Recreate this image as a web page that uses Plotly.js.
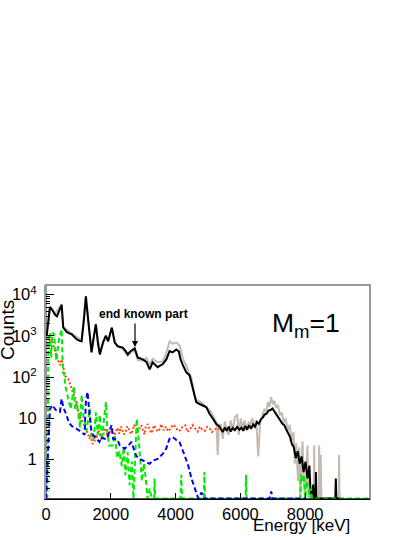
<!DOCTYPE html>
<html>
<head>
<meta charset="utf-8">
<script src="https://cdn.plot.ly/plotly-3.0.1.min.js"></script>
<style>html,body{margin:0;padding:0;background:#fff;}#chart{width:415px;height:537px;}</style>
</head>
<body>
<div id="chart"></div>
<script>
// ---------------- data ----------------
const blackE = [20,60,123,200,277,338,420,483,532,637,
  720,791,870,945,1040,1098,1170,1231,1300,1354,
  1406,1470,1538,1600,1662,1760,1846,1917,1980,2031,
  2123,2215,2300,2369,2450,2523,2600,2677,2738,2831,
  2910,2985,3098,3200,3292,3370,3446,3520,3600,3714,
  3815,3908,4022,4100,4150,4225,4329,4431,4483,4585,
  4637,4710,4791,4870,4945,5046,5148,5252,5354,5455,
  5520,5580,5640,5700,5763,5830,5900,5969,6030,6090,
  6150,6210,6270,6330,6390,6450,6510,6570,6630,6690,
  6750,6810,6870,6930,6990,7050,7110,7170,7230,7290,
  7350,7410,7470,7530,7590,7650,7710,7770,7830,7890,
  7950,8010,8070,8130,8160,8190,8250,8280,8320,8330,
  8345,8930,8945,8960,9100];
const blackY = [1000,2000,5000,4200,3300,3000,4500,5700,1600,1250,
  1150,1100,950,830,760,740,2500,9100,2500,1000,
  400,900,1900,700,355,700,1000,740,1200,1580,
  690,560,540,520,440,355,420,470,500,300,
  290,270,235,155,230,200,175,190,205,270,
  430,400,470,420,275,195,130,112,76,37,
  25,23,21,20,19,13,10,7.4,6.3,4.7,
  6.0,5.0,6.3,4.8,5.9,5.2,6.2,5.3,6.0,5.0,
  6.6,5.4,6.9,5.6,7.2,6.3,8.2,7.4,9.5,10.5,
  12.5,13,15.5,16,17.5,15,12.5,11,9.0,7.5,
  7.0,5.5,4.5,3.6,2.4,2.0,1.1,1.6,0.8,1.2,
  0.5,0.9,0.35,0.72,0.2,0.115,0.25,0.115,0.115,0.5,
  0.115,0.115,0.35,0.115,0.115];

const grayE = [20,123,277,483,532,791,1098,1231,1354,1406,
  1538,1662,1846,1917,2031,2123,2215,2369,2523,2600,
  2677,2738,2831,2985,3098,3200,3292,3446,3600,3714,
  3815,3908,4022,4123,4225,4329,4431,4483,4585,4637,
  4791,4945,5046,5148,5220,5260,5300,5340,5400,5455,
  5520,5580,5640,5700,5763,5830,5900,5950,6010,6070,
  6130,6190,6250,6310,6370,6430,6490,6550,6610,6670,
  6738,6790,6850,6900,6945,7000,7050,7100,7160,7220,
  7280,7340,7400,7460,7520,7580,7640,7680,7720,7780,
  7815,7850,7917,7960,8000,8070,8100,8260,8277,8295,
  8415,8430,8445,8465,8480,8500,9030,9046,9060,9200];
const grayY = [1100,5200,3400,5900,1700,1150,780,9300,1050,420,
  2000,370,1050,760,1600,700,560,480,330,380,
  430,450,260,250,290,200,280,230,240,380,
  740,650,690,590,280,190,112,100,37,28,
  25,19,16,12,9,8,1.3,7,7,3.2,
  8.5,5,4,9,5,11,12,4,10,6,
  9,5,8,7.4,10,6,9,1.2,8,12,
  17,14,25,19,33,22,27,18,21,12,
  14,8,10,5,7,3,4.7,0.8,2.5,0.3,
  2.0,0.115,2.8,0.3,0.115,2.2,0.115,0.115,2.2,0.115,
  0.115,2.2,0.115,0.115,1.3,0.115,0.115,1.3,0.115,0.115];

const redE = [60,123,200,277,338,430,483,532,590,690,
  790,870,945,1020,1100,1180,1240,1290,1340,1385,
  1440,1490,1530,1560,1610,1660,1710,1760,1810,1850,
  1900,1950,2000,2050,2100,2150,2200,2260,2310,2360,
  2410,2460,2510,2560,2620,2670,2720,2780,2830,2880,
  2940,3000,3040,3080,3140,3200,3260,3330,3390,3450,
  3500,3560,3630,3700,3770,3850,3920,4000,4070,4150,
  4220,4300,4370,4450,4520,4600,4680,4750,4820,4900,
  4970,5050,5120,5200,5280,5350];
const redY = [600,800,700,400,300,195,270,180,107,89,
  51,35,25,12,9,7,5,4.5,3.2,3.9,
  2.4,2.7,4.1,3.3,5.2,4.3,3.0,3.5,5.8,5.2,
  3.6,4,6.2,5.6,3.9,4.5,5.9,4.3,6.3,5.3,
  4.1,4.7,6.5,5.5,4.2,5,7,6,4.6,5.6,
  6.8,5,4.1,6.3,7.3,5.2,4.4,6.8,5.6,4.8,
  5.4,7.2,5.1,6.3,4.9,5.7,7.1,6.3,5.0,5.2,
  6.4,6.8,4.7,5.5,6.9,5.6,4.8,6.3,5.4,5.0,
  6.2,5.8,4.7,5.2,6.0,5.6];

const greenE = [0,40,55,70,123,160,200,250,320,400,
  483,500,520,560,600,650,700,760,830,860,
  900,945,1000,1050,1100,1150,1200,1250,1290,1350,
  1400,1470,1540,1600,1660,1720,1780,1850,1900,1950,
  2050,2120,2200,2260,2340,2400,2450,2520,2580,2650,
  2700,2760,2800,2850,2900,2960,3020,3080,3130,3200,
  3260,3330,3350,3370,3500,4150,4175,4200,4870,4890,
  4910,6160,6175,6190,7850,7870,7920,7960,8000,8040,
  8160,8180,8200,10000];
const greenY = [0.115,0.115,3,1000,1200,300,1200,1100,250,800,
  1450,350,130,120,60,40,25,17,40,60,
  17,25,12,6,37,12,8,5,8.3,17,
  4,3,14,4,12,3,8,25,4,2.2,
  2.2,4,1.1,1.6,0.7,2,0.42,1.5,0.24,0.9,
  0.115,3,9.8,4,1.2,0.3,0.8,0.35,0.115,0.2,
  0.115,0.115,0.35,0.115,0.115,0.115,0.43,0.115,0.115,0.5,
  0.115,0.115,0.43,0.115,0.115,0.43,0.3,0.43,0.115,0.3,
  0.115,0.2,0.115,0.115];

const blueE = [0,40,90,123,200,300,430,480,540,637,
  700,800,945,1100,1190,1230,1280,1330,1390,1450,
  1560,1650,1700,1800,1880,2020,2070,2200,2280,2430,
  2540,2640,2700,2780,2880,2990,3100,3200,3300,3450,
  3600,3710,3810,3910,4020,4120,4280,4390,4490,4600,
  4650,4700,4800,4850,6900,6950,7000,8000];
const blueY = [0.115,0.73,10,17,21,16,14.5,30,18,12,
  8,6.5,5.6,4.7,4,25,44,15,5.5,4,
  3.3,2.7,3.5,3.2,3.2,6.8,3.2,3.1,2.2,1.85,
  2.2,2.7,1.9,1.26,1.05,0.95,0.9,0.8,0.95,1.05,
  1.38,1.86,3.2,3.55,3.0,2.7,1.26,0.72,0.35,0.18,
  0.15,0.115,0.16,0.115,0.115,0.17,0.115,0.115];

const xTicks = [0,2000,4000,6000,8000];
const xTickText = ['0','2000','4000','6000','8000'];
const yTicks = [1,10,100,1000,10000];
const yTickText = ['1','10','10<sup>2</sup>','10<sup>3</sup>','10<sup>4</sup>'];

// ---------------- drawing ----------------
const FONT = 'Liberation Sans, Arial, Helvetica, sans-serif';
const minorY = [];
[0.1,1,10,100,1000].forEach(d => { for (let k = 2; k <= 9; k++) minorY.push(d*k); });

const traces = [
  {x: grayE, y: grayY, mode: 'lines', line: {color: 'rgb(196,186,176)', width: 2}, hoverinfo: 'skip'},
  {x: blackE, y: blackY, mode: 'lines', line: {color: '#000', width: 2}, hoverinfo: 'skip'},
  {x: redE, y: redY, mode: 'lines', line: {color: 'rgb(255,70,20)', width: 2, dash: '2px,2px'}, hoverinfo: 'skip'},
  {x: greenE, y: greenY, mode: 'lines', line: {color: 'rgb(0,235,0)', width: 2, dash: '5px,3px'}, hoverinfo: 'skip'},
  {x: blueE, y: blueY, mode: 'lines', line: {color: 'rgb(0,0,255)', width: 2, dash: '5px,3px'}, hoverinfo: 'skip'}
];

const layout = {
  width: 415, height: 537,
  margin: {l: 46, r: 45, t: 285, b: 38, pad: 0},
  paper_bgcolor: '#fff', plot_bgcolor: '#fff',
  showlegend: false,
  font: {family: FONT, color: '#000'},
  xaxis: {
    range: [0, 10000], tickvals: xTicks, ticktext: xTickText,
    ticks: 'inside', ticklen: 6, tickwidth: 1, tickcolor: '#000',
    showline: true, linecolor: '#000', linewidth: 1,
    showgrid: false, zeroline: false,
    tickfont: {family: FONT, size: 16.5, color: '#000'}
  },
  yaxis: {
    type: 'log', range: [-0.953, 4.235],
    tickvals: yTicks, ticktext: yTickText,
    ticks: 'inside', ticklen: 8, tickwidth: 1, tickcolor: '#000',
    minor: {tickvals: minorY, ticks: 'inside', ticklen: 4, tickwidth: 1, tickcolor: '#000', showgrid: false},
    showline: true, linecolor: '#999', linewidth: 2,
    showgrid: false, zeroline: false,
    ticklabelstandoff: 4,
    tickfont: {family: FONT, size: 16.5, color: '#000'}
  },
  shapes: [
    {type: 'rect', xref: 'paper', yref: 'paper', x0: 0, x1: 1, y0: 0, y1: 1,
     line: {color: '#999', width: 2}, layer: 'below'},
    {type: 'line', xref: 'paper', yref: 'paper', x0: 0, x1: 1, y0: 0, y1: 0,
     line: {color: '#000', width: 1}}
  ],
  annotations: [
    {text: 'Counts', xref: 'paper', yref: 'paper', x: -0.117, y: 0.79,
     xanchor: 'center', yanchor: 'middle', textangle: -90, showarrow: false, borderpad: 0,
     font: {family: FONT, size: 19, color: '#000'}},
    {text: 'Energy [keV]', xref: 'paper', yref: 'paper', x: 0.944, y: -0.126,
     xanchor: 'right', yanchor: 'middle', showarrow: false,
     font: {family: FONT, size: 17, color: '#000'}},
    {text: 'M<sub>m</sub>=1', xref: 'paper', yref: 'paper', x: 0.69, y: 0.813,
     xanchor: 'left', yanchor: 'middle', showarrow: false,
     font: {family: FONT, size: 26.5, color: '#000'}},
    {text: '<b>end known part</b>', xref: 'paper', yref: 'paper', x: 0.302, y: 0.864,
     xanchor: 'center', yanchor: 'middle', showarrow: false,
     font: {family: FONT, size: 12, color: '#000'}},
    {text: '', xref: 'paper', yref: 'paper', x: 0.2747, y: 0.710,
     showarrow: true, ax: 0, ay: -25, arrowhead: 2, arrowsize: 1, arrowwidth: 1.2, arrowcolor: '#000'}
  ]
};

Plotly.newPlot('chart', traces, layout, {displayModeBar: false, staticPlot: true});
</script>
</body>
</html>
